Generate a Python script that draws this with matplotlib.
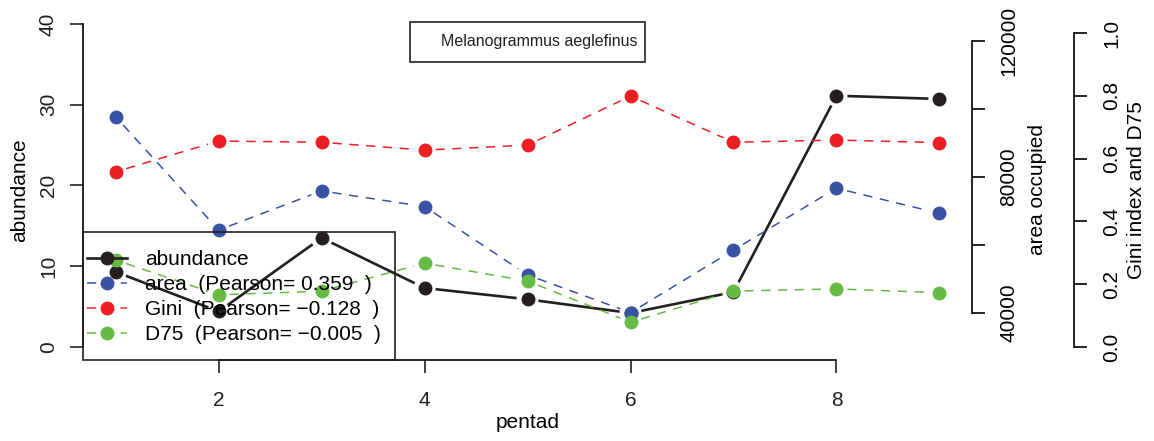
import numpy as np
import matplotlib.pyplot as plt
from matplotlib.lines import Line2D
from matplotlib.patches import Rectangle

plt.rcParams['font.family'] = ['Liberation Sans', 'DejaVu Sans']

# values
pentad = [1, 2, 3, 4, 5, 6, 7, 8, 9]
abundance = [9.3, 4.4, 13.5, 7.3, 5.9, 4.2, 6.8, 31.1, 30.7]
area = [97700, 64400, 75900, 71300, 51200, 40100, 58500, 76700, 69300]
gini = [0.558, 0.656, 0.652, 0.627, 0.643, 0.799, 0.652, 0.659, 0.651]
d75 = [0.277, 0.166, 0.178, 0.267, 0.210, 0.079, 0.178, 0.185, 0.173]

species = 'Melanogrammus aeglefinus'
pearson_area = '0.359'
pearson_gini = '\u22120.128'
pearson_d75 = '\u22120.005'

black = '#231f20'
blue = '#3853a4'
red = '#ed1f24'
green = '#66bb44'
fs = 15
ms = 9
dash = (0, (6, 5))


def plot_b(a, x, y, color, lw, ls, gap=11):
    # R type="b": points joined by lines that stop short of each point
    pts = a.transData.transform(np.column_stack([x, y]))
    inv = a.transData.inverted()
    for p0, p1 in zip(pts[:-1], pts[1:]):
        d = p1 - p0
        n = np.hypot(*d)
        if n <= 2 * gap:
            continue
        u = d / n
        seg = inv.transform(np.array([p0 + u * gap, p1 - u * gap]))
        a.plot(seg[:, 0], seg[:, 1], color=color, lw=lw, ls=ls, solid_capstyle='butt')
    a.plot(x, y, ls='none', marker='o', ms=ms, color=color)


fig = plt.figure(figsize=(11.54, 4.41), dpi=100)
ax = fig.add_axes([0.0717, 0.1839, 0.7709, 0.7914])
ax2 = ax.twinx()
ax3 = ax.twinx()

# limits first, so the gapped lines are placed right
ax.set_xlim(0.68, 9.32)
ax.set_ylim(-1.6, 41.6)
ax2.set_ylim(26206, 128853)
ax3.set_ylim(-0.0411, 1.0704)
ax3.spines['right'].set_position(('outward', 73))

plot_b(ax, pentad, abundance, black, 1.9, '-')
plot_b(ax2, pentad, area, blue, 1.1, dash)
plot_b(ax3, pentad, gini, red, 1.1, dash)
plot_b(ax3, pentad, d75, green, 1.1, dash)

# main axes (R style: no box)
ax.set_xticks([2, 4, 6, 8])
ax.set_yticks([0, 10, 20, 30, 40])
ax.spines['top'].set_visible(False)
ax.spines['right'].set_visible(False)
ax.spines['bottom'].set_bounds(2, 8)
ax.spines['left'].set_bounds(0, 40)
ax.tick_params(axis='both', length=9.4, width=1.2, labelsize=fs, color=black, labelcolor=black)
ax.tick_params(axis='x', pad=13)
ax.tick_params(axis='y', pad=8.5)
ax.set_yticklabels(['0', '10', '20', '30', '40'], rotation=90, va='center')
ax.set_xlabel('pentad', fontsize=fs, va='center')
ax.xaxis.set_label_coords(0.5, -0.18)
ax.set_ylabel('abundance', fontsize=fs, va='center')
ax.yaxis.set_label_coords(-0.0705, 0.487)
for s in ('left', 'bottom'):
    ax.spines[s].set_linewidth(1.2)

# area axis
ax2.set_yticks([40000, 60000, 80000, 100000, 120000])
ax2.set_yticklabels(['40000', '', '80000', '', '120000'], rotation=90, va='center')
for s in ('top', 'left', 'bottom'):
    ax2.spines[s].set_visible(False)
ax2.spines['right'].set_bounds(40000, 120000)
ax2.spines['right'].set_linewidth(1.2)
ax2.tick_params(axis='y', length=9.4, width=1.2, labelsize=fs, pad=10)
ax2.set_ylabel('area occupied', fontsize=fs, rotation=90, va='center')
ax2.yaxis.set_label_coords(1.0733, 0.487)

# Gini / D75 axis
ax3.set_yticks([0, 0.2, 0.4, 0.6, 0.8, 1.0])
ax3.set_yticklabels(['0.0', '0.2', '0.4', '0.6', '0.8', '1.0'], rotation=90, va='center')
for s in ('top', 'left', 'bottom'):
    ax3.spines[s].set_visible(False)
ax3.spines['right'].set_bounds(0, 1)
ax3.spines['right'].set_linewidth(1.2)
ax3.tick_params(axis='y', length=9.4, width=1.2, labelsize=fs, pad=11)
ax3.set_ylabel('Gini index and D75', fontsize=fs, rotation=90, va='center')
ax3.yaxis.set_label_coords(1.184, 0.487)

# legend box and entries
ax3.add_patch(Rectangle((0, 0), 0.351, 0.367, transform=ax.transAxes, fill=False,
                        edgecolor=black, lw=1.2, clip_on=False))
handles = [
    Line2D([], [], color=black, lw=1.9, marker='o', ms=ms),
    Line2D([], [], color=blue, lw=1.1, ls=dash, marker='o', ms=ms),
    Line2D([], [], color=red, lw=1.1, ls=dash, marker='o', ms=ms),
    Line2D([], [], color=green, lw=1.1, ls=dash, marker='o', ms=ms),
]
labels = ['abundance',
          'area  (Pearson= ' + pearson_area + '  )',
          'Gini  (Pearson= ' + pearson_gini + '  )',
          'D75  (Pearson= ' + pearson_d75 + '  )']
leg = ax3.legend(handles, labels, loc='upper left', bbox_to_anchor=(0.0048, 0.315),
                 bbox_transform=ax.transAxes, borderaxespad=0, fontsize=fs,
                 frameon=False, handlelength=1.9, handletextpad=0.9,
                 labelspacing=0.29, borderpad=0, numpoints=1)

# species box at the top
fig.patches.append(Rectangle((410 / 1154, 1 - 61.7 / 441), 235 / 1154, 40 / 441,
                             transform=fig.transFigure, facecolor='white',
                             edgecolor=black, lw=1.2))
fig.text(441 / 1154, 1 - 41.7 / 441, species, fontsize=11.5, color=black,
         ha='left', va='center')

fig.savefig('out.png', dpi=100)
